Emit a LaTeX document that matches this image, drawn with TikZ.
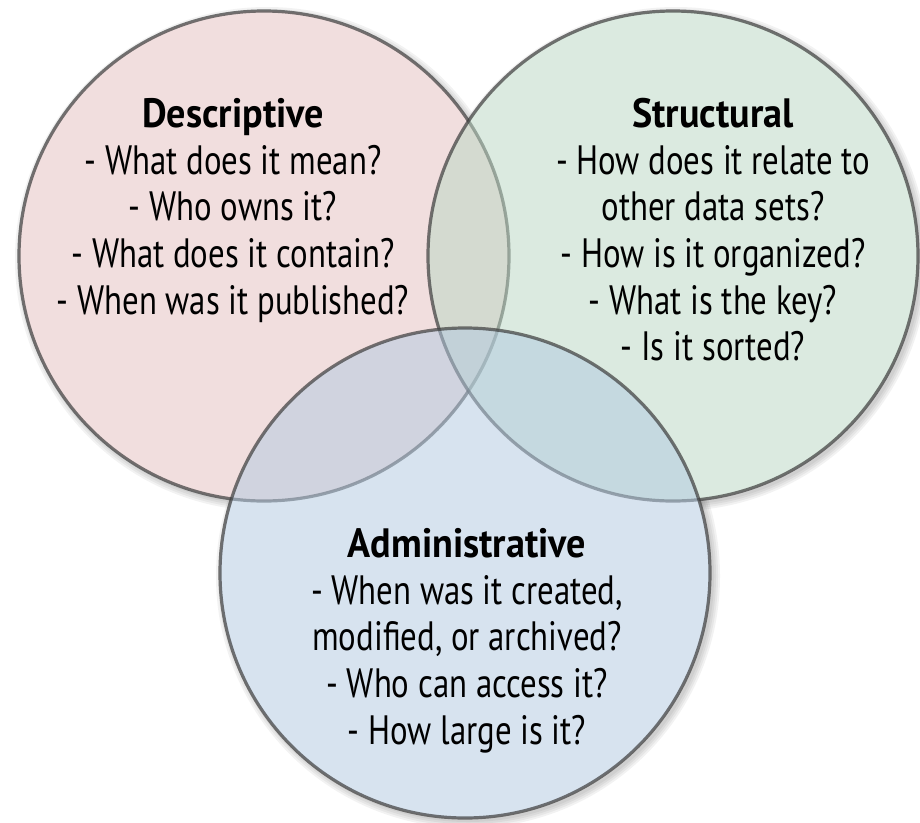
\documentclass[tikz,border=0pt]{standalone}
\usepackage{fontspec}
\setmainfont[FakeStretch=0.8,BoldFeatures={FakeStretch=0.93}]{PT Sans}
\definecolor{pinkc}{RGB}{229,191,191}
\definecolor{greenc}{RGB}{185,215,195}
\definecolor{bluec}{RGB}{177,201,225}
\definecolor{rimc}{RGB}{60,60,60}
\begin{document}
\begin{tikzpicture}[x=1pt,y=-1pt,
  venn/.style={circle, minimum size=490pt, inner sep=0pt, fill opacity=0.5, draw=rimc, draw opacity=0.7, line width=3.2pt},
  whitedisc/.style={circle, minimum size=490pt, inner sep=0pt, fill=white},
  shade/.style={circle, inner sep=0pt, fill=black, fill opacity=0.05},
  txt/.style={align=center, font=\fontsize{41}{46.7}\selectfont, text=black, inner sep=0pt}]
\useasboundingbox (0,0) rectangle (920,822);
% soft shadows
\foreach \cx/\cy in {264/256, 673/256, 465/573}{
  \foreach \s in {492,496,500,504}{
    \node[shade, minimum size=\s pt] at (\cx+3,\cy+3) {};
  }
}
\node[whitedisc] (w1) at (264,256) {};
\node[whitedisc] (w2) at (673,256) {};
\node[whitedisc] (w3) at (465,573) {};
% circles
\node[venn, fill=pinkc] (desc) at (264,256) {};
\node[venn, fill=greenc] (struc) at (673,256) {};
\node[venn, fill=bluec] (admin) at (465,573) {};
% texts
\node[txt, anchor=north] (tdesc) at (233,98) {{\bfseries Descriptive}\\- What does it mean?\\- Who owns it?\\- What does it contain?\\- When was it published?};
\node[txt, anchor=north] (tstruc) at (713,98) {{\bfseries Structural}\\- How does it relate to\\other data sets?\\- How is it organized?\\- What is the key?\\- Is it sorted?};
\node[txt, anchor=north] (tadmin) at (467,528) {{\bfseries Administrative}\\- When was it created,\\modified, or archived?\\- Who can access it?\\- How large is it?};
\end{tikzpicture}
\end{document}
